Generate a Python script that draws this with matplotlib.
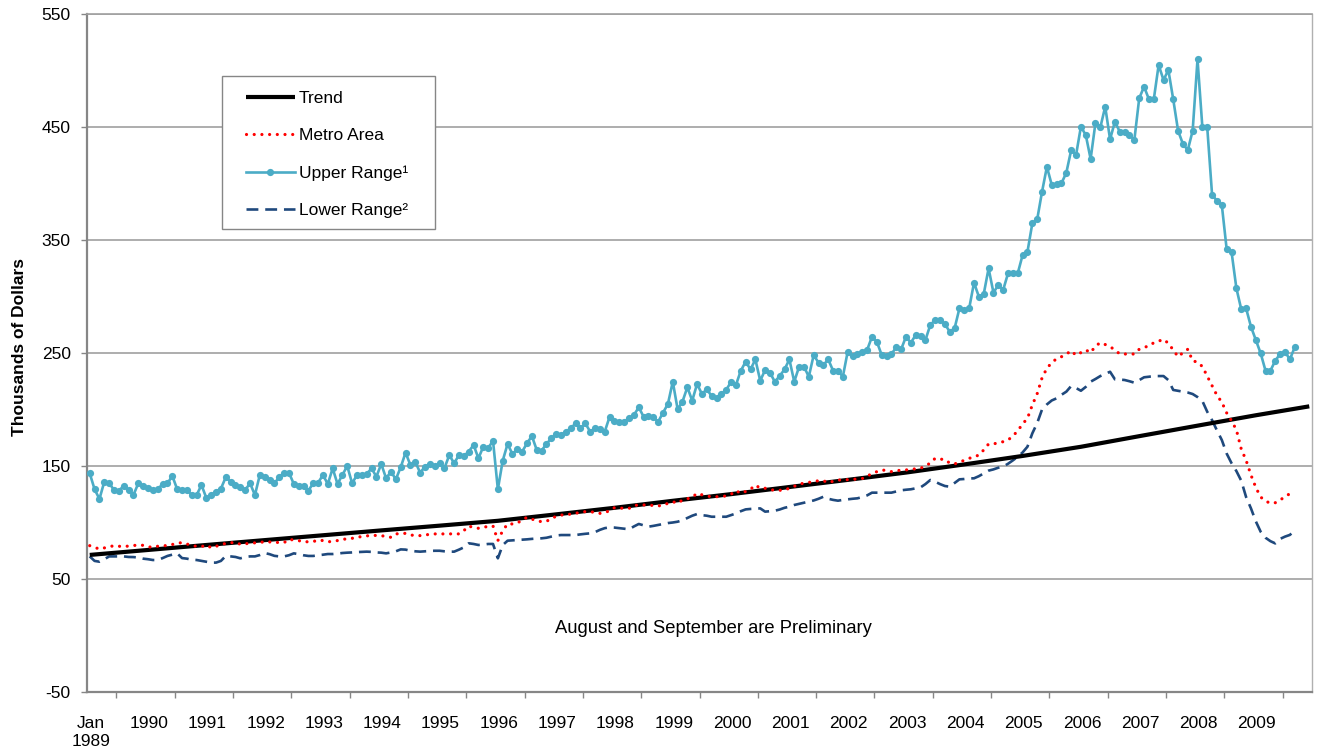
import numpy as np
import matplotlib
matplotlib.use("Agg")
import matplotlib.pyplot as plt
from matplotlib.ticker import FixedLocator
from matplotlib.patches import Rectangle

plt.rcParams['font.family'] = ['Liberation Sans', 'DejaVu Sans']
plt.rcParams['axes.unicode_minus'] = False

# ---------------- data (thousands of dollars, monthly from Jan 1989) ----------------
year_labels = ["Jan\n1989", "1990", "1991", "1992", "1993", "1994", "1995", "1996",
               "1997", "1998", "1999", "2000", "2001", "2002", "2003", "2004",
               "2005", "2006", "2007", "2008", "2009"]

upper = [
    143.5, 129.4, 120.8, 136.1, 134.7, 128.8, 128.2, 132.3, 128.8, 124.3, 134.7, 132.3,
    130.5, 128.8, 129.4, 134.1, 134.7, 141.2, 129.4, 128.8, 128.8, 124.3, 124.3, 133.2,
    121.7, 124.3, 127.3, 130.0, 140.0, 136.1, 133.2, 131.1, 128.8, 134.7, 124.3, 142.0,
    140.6, 137.6, 134.7, 140.0, 144.1, 144.1, 134.1, 132.3, 132.3, 128.2, 134.7, 135.2,
    142.0, 134.1, 147.9, 134.1, 142.0, 150.0, 134.7, 142.0, 142.0, 142.9, 147.9, 140.6,
    151.8, 139.1, 145.0, 138.2, 148.8, 161.8, 150.9, 153.8, 144.1, 149.4, 151.8, 150.0,
    152.4, 147.9, 159.7, 152.4, 159.7, 158.8, 162.7, 168.6, 156.8, 167.1, 165.7, 172.4,
    129.4, 154.7, 169.5, 160.6, 164.8, 162.7, 170.1, 176.5, 164.2, 163.6, 169.5, 174.5,
    178.3, 177.4, 180.4, 183.3, 187.8, 183.3, 187.8, 180.4, 183.3, 182.4, 180.4, 193.6,
    190.1, 189.2, 189.2, 192.2, 195.1, 201.9, 193.6, 194.2, 193.1, 189.2, 197.2, 204.9,
    224.6, 200.2, 207.0, 219.7, 207.8, 222.6, 213.7, 217.9, 211.9, 209.9, 213.7, 217.3,
    224.6, 221.7, 234.3, 242.3, 235.5, 244.3, 225.5, 234.9, 232.6, 224.6, 229.6, 235.5,
    244.3, 224.6, 237.9, 237.9, 229.0, 248.2, 241.4, 239.4, 244.3, 234.3, 234.3, 229.0,
    251.2, 247.3, 249.1, 251.2, 252.7, 264.4, 260.0, 248.2, 247.3, 249.1, 255.0, 253.3,
    264.4, 259.1, 265.9, 265.0, 261.5, 274.8, 279.2, 279.2, 275.7, 268.8, 271.8, 289.5,
    288.1, 289.5, 312.2, 299.8, 302.2, 324.9, 303.4, 310.2, 305.8, 320.5, 320.5, 320.5,
    336.7, 339.6, 364.7, 368.2, 392.7, 414.8, 398.7, 399.6, 400.2, 409.6, 429.6, 425.2,
    450.3, 442.9, 421.7, 453.8, 449.7, 468.0, 439.1, 454.7, 445.8, 445.8, 442.9, 438.5,
    475.4, 485.7, 474.5, 474.5, 504.9, 491.6, 500.4, 474.5, 446.7, 434.9, 429.6, 446.7,
    509.9, 449.7, 449.7, 389.8, 384.8, 381.0, 341.8, 339.6, 307.3, 288.7, 289.5, 273.3,
    261.5, 249.7, 234.3, 234.3, 243.2, 249.1, 251.2, 244.3, 255.0,
]

metro = [
    79.5, 78.0, 76.5, 77.5, 78.6, 79.5, 79.0, 78.6, 79.2, 79.6, 80.1, 79.8,
    78.5, 78.0, 79.0, 79.5, 79.5, 80.5, 81.6, 82.2, 81.0, 79.5, 79.0, 78.6,
    80.1, 77.7, 79.0, 80.1, 81.6, 82.0, 82.5, 80.7, 81.2, 81.6, 82.0, 82.2,
    83.1, 82.8, 82.5, 82.3, 82.2, 85.1, 84.5, 84.0, 82.8, 83.0, 83.1, 84.5,
    84.0, 82.8, 83.5, 84.0, 85.1, 85.5, 86.0, 87.0, 87.5, 88.1, 88.7, 88.5,
    88.4, 87.5, 86.9, 89.9, 90.2, 90.4, 89.0, 88.4, 88.4, 89.0, 89.5, 89.9,
    89.9, 89.9, 89.9, 90.0, 89.9, 92.8, 96.9, 95.5, 94.9, 95.8, 96.5, 96.9,
    84.0, 92.8, 98.7, 98.7, 99.5, 102.2, 104.6, 103.0, 101.6, 100.7, 101.0, 103.5,
    105.5, 106.6, 106.6, 107.5, 108.1, 109.0, 109.6, 109.6, 108.8, 108.1, 108.7, 110.5,
    113.1, 112.8, 112.5, 112.5, 115.0, 115.5, 115.5, 115.5, 115.0, 114.6, 115.5, 117.0,
    118.4, 117.0, 119.9, 121.0, 122.3, 125.8, 124.5, 123.5, 122.8, 122.8, 123.0, 123.5,
    125.0, 128.2, 125.8, 127.5, 129.4, 133.2, 130.3, 130.3, 129.5, 128.2, 128.5, 128.8,
    130.3, 132.0, 134.1, 134.7, 135.5, 136.1, 137.0, 137.0, 135.2, 136.5, 137.6, 137.6,
    137.9, 138.2, 138.5, 138.9, 141.2, 143.0, 145.0, 146.5, 146.0, 145.0, 145.9, 146.2,
    146.5, 147.0, 147.5, 148.0, 150.0, 152.6, 156.8, 156.0, 155.9, 152.5, 151.8, 153.5,
    155.0, 156.8, 158.0, 159.7, 164.2, 169.5, 169.5, 170.6, 171.5, 173.0, 176.5, 181.2,
    187.2, 192.2, 204.0, 214.0, 228.0, 236.5, 241.4, 245.0, 246.7, 249.0, 252.0, 248.0,
    250.3, 252.7, 250.3, 256.2, 259.1, 257.5, 255.6, 252.7, 249.1, 249.1, 249.1, 249.1,
    253.3, 255.0, 256.2, 259.1, 260.5, 262.1, 258.6, 252.7, 246.7, 250.3, 253.3, 243.0,
    242.0, 238.0, 229.5, 221.0, 212.5, 206.5, 197.0, 190.0, 182.0, 165.0, 155.0, 142.0,
    131.0, 122.5, 119.0, 117.0, 117.5, 119.9, 122.8, 125.5, 127.3,
]

lower = [
    70.0, 66.0, 65.3, 67.5, 70.0, 70.0, 70.0, 70.0, 69.5, 69.4, 69.0, 68.0,
    67.5, 66.8, 66.8, 68.5, 70.4, 71.5, 72.7, 68.5, 68.0, 67.0, 66.8, 66.0,
    65.3, 64.5, 64.5, 66.0, 70.4, 70.0, 69.5, 68.3, 69.5, 70.0, 70.0, 71.2,
    73.0, 72.0, 70.5, 70.0, 70.0, 71.0, 72.7, 72.0, 71.0, 70.4, 70.4, 71.0,
    71.5, 72.1, 72.1, 72.5, 73.0, 73.3, 73.5, 73.8, 74.0, 74.2, 74.0, 73.5,
    73.3, 72.7, 73.5, 74.5, 76.2, 76.0, 75.0, 74.5, 74.2, 74.5, 74.8, 75.0,
    75.0, 74.5, 74.2, 74.2, 76.0, 78.0, 81.6, 81.0, 80.1, 80.5, 81.0, 81.0,
    68.3, 80.0, 83.9, 84.2, 84.5, 84.8, 85.1, 85.5, 85.8, 86.0, 86.5, 87.5,
    88.5, 88.9, 88.9, 88.9, 88.9, 89.5, 90.0, 90.4, 91.5, 93.5, 95.0, 95.7,
    95.5, 95.0, 94.5, 94.0, 96.5, 98.7, 97.5, 96.3, 97.0, 97.8, 98.5, 99.5,
    100.0, 100.7, 102.0, 104.0, 106.0, 107.5, 106.5, 106.0, 105.1, 105.1, 105.1, 105.1,
    106.5, 108.0, 110.0, 111.6, 112.0, 112.2, 112.5, 109.6, 110.0, 110.4, 111.5, 113.0,
    114.0, 115.5, 116.5, 117.5, 118.4, 119.5, 121.0, 122.8, 121.0, 120.0, 119.3, 120.0,
    120.5, 121.0, 121.4, 122.5, 124.0, 126.4, 126.4, 126.4, 126.4, 126.4, 127.5, 128.5,
    129.0, 129.4, 130.3, 131.1, 134.0, 137.6, 136.1, 134.0, 132.3, 131.7, 135.0, 138.2,
    138.5, 139.0, 139.1, 141.0, 143.5, 145.9, 147.0, 148.5, 149.4, 152.0, 155.0, 158.2,
    162.0, 167.1, 178.9, 188.0, 200.0, 204.5, 208.0, 209.9, 213.0, 215.8, 220.8, 219.0,
    216.6, 220.0, 224.6, 227.0, 229.6, 231.5, 233.4, 226.7, 226.5, 226.1, 225.0, 223.7,
    226.0, 228.5, 229.0, 229.6, 229.6, 229.6, 226.0, 217.3, 216.5, 215.8, 215.0, 213.7,
    211.0, 207.5, 198.0, 190.5, 181.5, 173.0, 161.0, 152.5, 145.5, 137.0, 122.5, 112.5,
    101.0, 91.8, 86.5, 83.5, 81.5, 85.5, 87.5, 89.0, 92.8,
]

# trend read at each January and at Dec 2009 (month index)
trend_months = [0, 12, 24, 36, 48, 60, 72, 84, 96, 108, 120, 132, 144, 156,
                168, 180, 192, 204, 216, 228, 240, 251]
trend = [71.3, 75.7, 80.1, 84.4, 88.7, 93.0, 97.2, 101.5, 107.2, 113.0, 119.2,
         125.1, 131.4, 137.7, 144.2, 151.4, 158.9, 167.0, 176.4, 185.7, 194.9, 202.8]

n_months_axis = 252  # Jan 1989 .. Dec 2009 categories

# ---------------- figure ----------------
W, H = 1318, 754
fig = plt.figure(figsize=(W / 100, H / 100), dpi=100)
ax = fig.add_axes([87.3 / W, 1 - 692 / H, (1311.7 - 87.3) / W, (692 - 14) / H])

m_upper = np.arange(len(upper)) + 0.5
m_metro = np.arange(len(metro)) + 0.5
m_lower = np.arange(len(lower)) + 0.5
m_trend = np.array(trend_months) + 0.5

ax.plot(m_upper, upper, color='#4bacc6', lw=1.9, marker='o', markersize=5.2,
        markeredgewidth=0, label='Upper Range\u00b9', zorder=3)
ax.plot(m_lower, lower, color='#1f497d', lw=1.9, linestyle=(0, (4.5, 2.6)),
        label='Lower Range\u00b2', zorder=3)
ax.plot(m_trend, trend, color='black', lw=3.0, solid_capstyle='butt',
        label='Trend', zorder=4)
ax.plot(m_metro, metro, color='#ff0000', lw=2.3, linestyle=(0, (0.01, 2.4)),
        dash_capstyle='round', label='Metro Area', zorder=5)

ax.set_xlim(0, n_months_axis)
ax.set_ylim(-50, 550)
ax.set_yticks(np.arange(-50, 551, 100))
ax.yaxis.grid(True, color='#a0a0a0', lw=1.2)
ax.set_axisbelow(True)

# x axis: labels at each January, tick marks mid-year
ax.xaxis.set_major_locator(FixedLocator([12 * k + 0.7 for k in range(len(year_labels))]))
ax.set_xticklabels(year_labels)
ax.xaxis.set_minor_locator(FixedLocator([12 * k + 6 for k in range(21)]))
ax.tick_params(axis='x', which='major', length=0, pad=17, labelsize=12.5)
ax.tick_params(axis='x', which='minor', length=4, width=1, color='#868686')
ax.tick_params(axis='y', which='major', length=4, width=1, color='#868686',
               pad=8, labelsize=12.5)

for lab in ax.get_xticklabels():
    lab.set_multialignment('center')
    lab.set_linespacing(1.3)

for side in ['left', 'bottom']:
    ax.spines[side].set_color('#868686')
    ax.spines[side].set_linewidth(1.6)
ax.spines['right'].set_color('#b0b0b0')
ax.spines['right'].set_linewidth(1.0)
ax.spines['top'].set_color('#a0a0a0')
ax.spines['top'].set_linewidth(1.2)

ax.set_ylabel('Thousands of Dollars', fontsize=12.5, fontweight='bold')
ax.yaxis.set_label_coords(-60 / (1311.7 - 87.3), (692 - 347) / (692 - 14))

ax.text(0.511, 0.094, 'August and September are Preliminary', transform=ax.transAxes,
        ha='center', va='center', fontsize=13.2)

# legend frame drawn as its own box, entries placed inside it
frame = Rectangle((222 / W, 1 - 229 / H), (435 - 222) / W, (229 - 76) / H,
                  transform=fig.transFigure, facecolor='white',
                  edgecolor='#868686', lw=1.0, zorder=6, clip_on=False)
ax.add_patch(frame)
handles, labels = ax.get_legend_handles_labels()
order = [labels.index(l) for l in ['Trend', 'Metro Area', 'Upper Range\u00b9', 'Lower Range\u00b2']]
leg = ax.legend([handles[i] for i in order], [labels[i] for i in order],
                loc='upper left', bbox_to_anchor=(232 / W, 1 - 77 / H),
                bbox_transform=fig.transFigure, fontsize=12.5, frameon=False,
                handlelength=2.8, handletextpad=0.25, labelspacing=1.27,
                borderpad=0.8, borderaxespad=0, numpoints=1)
leg.set_zorder(7)

fig.savefig('out.png', dpi=100, facecolor='white')
